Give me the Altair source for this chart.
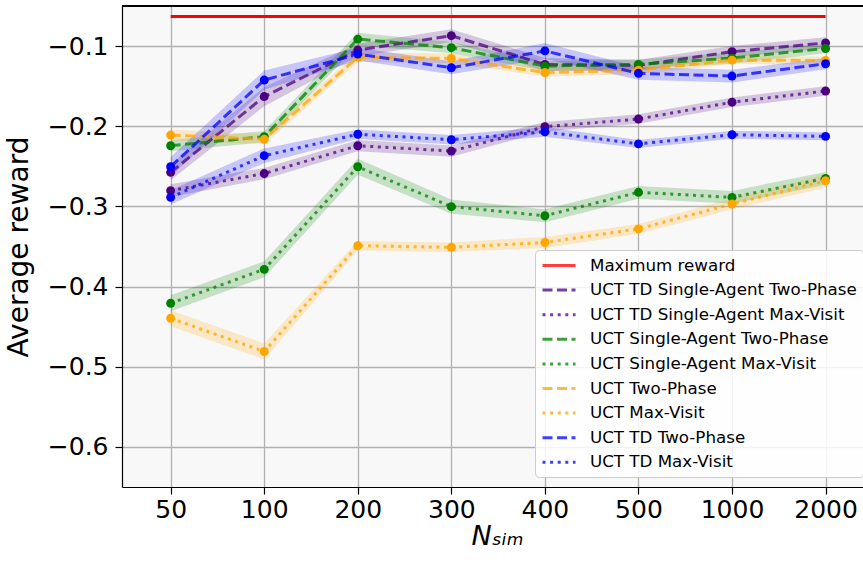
import altair as alt
import pandas as pd

x_labels = ["50", "100", "200", "300", "400", "500", "1000", "2000"]

series_names = [
    "Maximum reward",
    "UCT TD Single-Agent Two-Phase",
    "UCT TD Single-Agent Max-Visit",
    "UCT Single-Agent Two-Phase",
    "UCT Single-Agent Max-Visit",
    "UCT Two-Phase",
    "UCT Max-Visit",
    "UCT TD Two-Phase",
    "UCT TD Max-Visit",
]
series_colors = ["#ff0000", "#4b0082", "#4b0082", "#008000", "#008000",
                 "#ffa500", "#ffa500", "#0000ff", "#0000ff"]

max_reward = [-0.063] * 8

td_sa_two = [-0.2575, -0.163, -0.105, -0.087, -0.123, -0.124, -0.107, -0.096]
td_sa_max = [-0.2804, -0.259, -0.2243, -0.231, -0.2006, -0.191, -0.170, -0.156]
sa_two = [-0.2243, -0.213, -0.0913, -0.102, -0.125, -0.1228, -0.115, -0.103]
sa_max = [-0.4208, -0.3785, -0.2505, -0.3003, -0.3116, -0.2824, -0.2887, -0.265]
uct_two = [-0.211, -0.2163, -0.114, -0.1154, -0.133, -0.130, -0.1175, -0.118]
uct_max = [-0.4396, -0.481, -0.349, -0.351, -0.345, -0.328, -0.297, -0.268]
td_two = [-0.2505, -0.1424, -0.110, -0.127, -0.106, -0.134, -0.1374, -0.122]
td_max = [-0.2887, -0.2367, -0.210, -0.2168, -0.207, -0.222, -0.2106, -0.2126]

td_sa_two_err = [0.010, 0.012, 0.008, 0.008, 0.008, 0.007, 0.007, 0.007]
td_sa_max_err = [0.008, 0.007, 0.007, 0.007, 0.006, 0.006, 0.006, 0.006]
sa_two_err = [0.007, 0.007, 0.008, 0.007, 0.006, 0.006, 0.007, 0.006]
sa_max_err = [0.010, 0.010, 0.010, 0.009, 0.008, 0.008, 0.008, 0.008]
uct_two_err = [0.007, 0.006, 0.006, 0.006, 0.005, 0.005, 0.005, 0.005]
uct_max_err = [0.010, 0.010, 0.006, 0.006, 0.007, 0.006, 0.007, 0.008]
td_two_err = [0.012, 0.012, 0.008, 0.008, 0.010, 0.008, 0.008, 0.007]
td_max_err = [0.009, 0.009, 0.006, 0.006, 0.006, 0.005, 0.005, 0.005]
max_err = [0.0] * 8

values = [max_reward, td_sa_two, td_sa_max, sa_two, sa_max, uct_two, uct_max, td_two, td_max]
errors = [max_err, td_sa_two_err, td_sa_max_err, sa_two_err, sa_max_err,
          uct_two_err, uct_max_err, td_two_err, td_max_err]

rows = []
for name, vals, errs in zip(series_names, values, errors):
    for i, (v, e) in enumerate(zip(vals, errs)):
        rows.append({"series": name, "idx": i, "value": v, "lo": v - e, "hi": v + e})
df = pd.DataFrame(rows)

DASH = [10, 4.5]
DOT = [3, 4.6]
dashes = [[1, 0], DASH, DOT, DASH, DOT, DASH, DOT, DASH, DOT]

color_scale = alt.Scale(domain=series_names, range=series_colors)
dash_scale = alt.Scale(domain=series_names, range=dashes)

label_js = "[" + ",".join("'%s'" % l for l in x_labels) + "][datum.value]"

W, H = 741, 481

x_enc = alt.X("idx:Q",
              scale=alt.Scale(domain=[-0.52, 7.40], nice=False, zero=False),
              axis=alt.Axis(values=list(range(8)), labelExpr=label_js,
                            title="Nₛᵢₘ", titleFontStyle="italic",
                            titleFontSize=27, titleFontWeight="normal",
                            labelFontSize=25, labelPadding=3, titlePadding=1,
                            tickSize=7, labelAngle=0, titleX=375))
y_scale = alt.Scale(domain=[-0.65, -0.05], nice=False, zero=False)
y_axis = alt.Axis(values=[-0.6, -0.5, -0.4, -0.3, -0.2, -0.1], format=".1f",
                  title="Average reward", titleFontSize=28, titleFontWeight="normal",
                  labelFontSize=25, labelPadding=7, titlePadding=14, tickSize=7)

base = alt.Chart(df)
not_max = alt.datum.series != "Maximum reward"

bands = base.transform_filter(not_max).mark_area(opacity=0.2).encode(
    x=x_enc,
    y=alt.Y("lo:Q", scale=y_scale, axis=y_axis),
    y2="hi:Q",
    color=alt.Color("series:N", scale=color_scale, legend=None),
    detail="series:N",
)

# line-shaped legend symbol: short in height so the rows stay compact
SYMBOL_PATH = "M-1,0L3.125,0"
legend = alt.Legend(orient="none", legendX=413, legendY=244, symbolType=SYMBOL_PATH, title=None)

lines = base.mark_line(strokeWidth=3, strokeCap="butt").encode(
    x=x_enc,
    y=alt.Y("value:Q", scale=y_scale, axis=y_axis),
    color=alt.Color("series:N", scale=color_scale, legend=legend),
    strokeDash=alt.StrokeDash("series:N", scale=dash_scale, legend=legend),
    opacity=alt.condition(alt.datum.series == "Maximum reward", alt.value(1.0), alt.value(0.75)),
    order="idx:Q",
)

points = base.transform_filter(not_max).mark_circle(size=80, opacity=1).encode(
    x=x_enc,
    y=alt.Y("value:Q", scale=y_scale, axis=y_axis),
    color=alt.Color("series:N", scale=color_scale, legend=None),
)

top_frame = alt.Chart(df).mark_rule(color="black", strokeWidth=1.2).encode(
    x=alt.value(0), x2=alt.value(W), y=alt.value(0)
)

chart = alt.layer(bands, lines, points, top_frame).resolve_legend(
    color="independent", strokeDash="independent"
).properties(
    width=W, height=H,
    autosize=alt.AutoSizeParams(type="none"),
    padding={"left": 122, "top": 6, "right": 0, "bottom": 77},
).configure_view(
    fill="#f8f8f8", stroke=None,
).configure_axis(
    grid=True, gridColor="#b0b0b0", gridWidth=1.3,
    domain=True, domainColor="black", domainWidth=1.2,
    tickColor="black", tickWidth=1.2,
    labelColor="black", titleColor="black",
    labelFont="DejaVu Sans", titleFont="DejaVu Sans",
).configure_legend(
    labelFont="DejaVu Sans", labelFontSize=16.7, labelColor="black",
    symbolSize=256, symbolStrokeWidth=3, symbolOpacity=0.75,
    symbolFillColor="transparent",
    fillColor="rgba(255,255,255,0.85)", strokeColor="#cccccc",
    cornerRadius=4, padding=6, rowPadding=5.6, labelOffset=30,
    labelLimit=400,
)

chart.save("out.html", embed_options={"renderer": "svg", "actions": False})
